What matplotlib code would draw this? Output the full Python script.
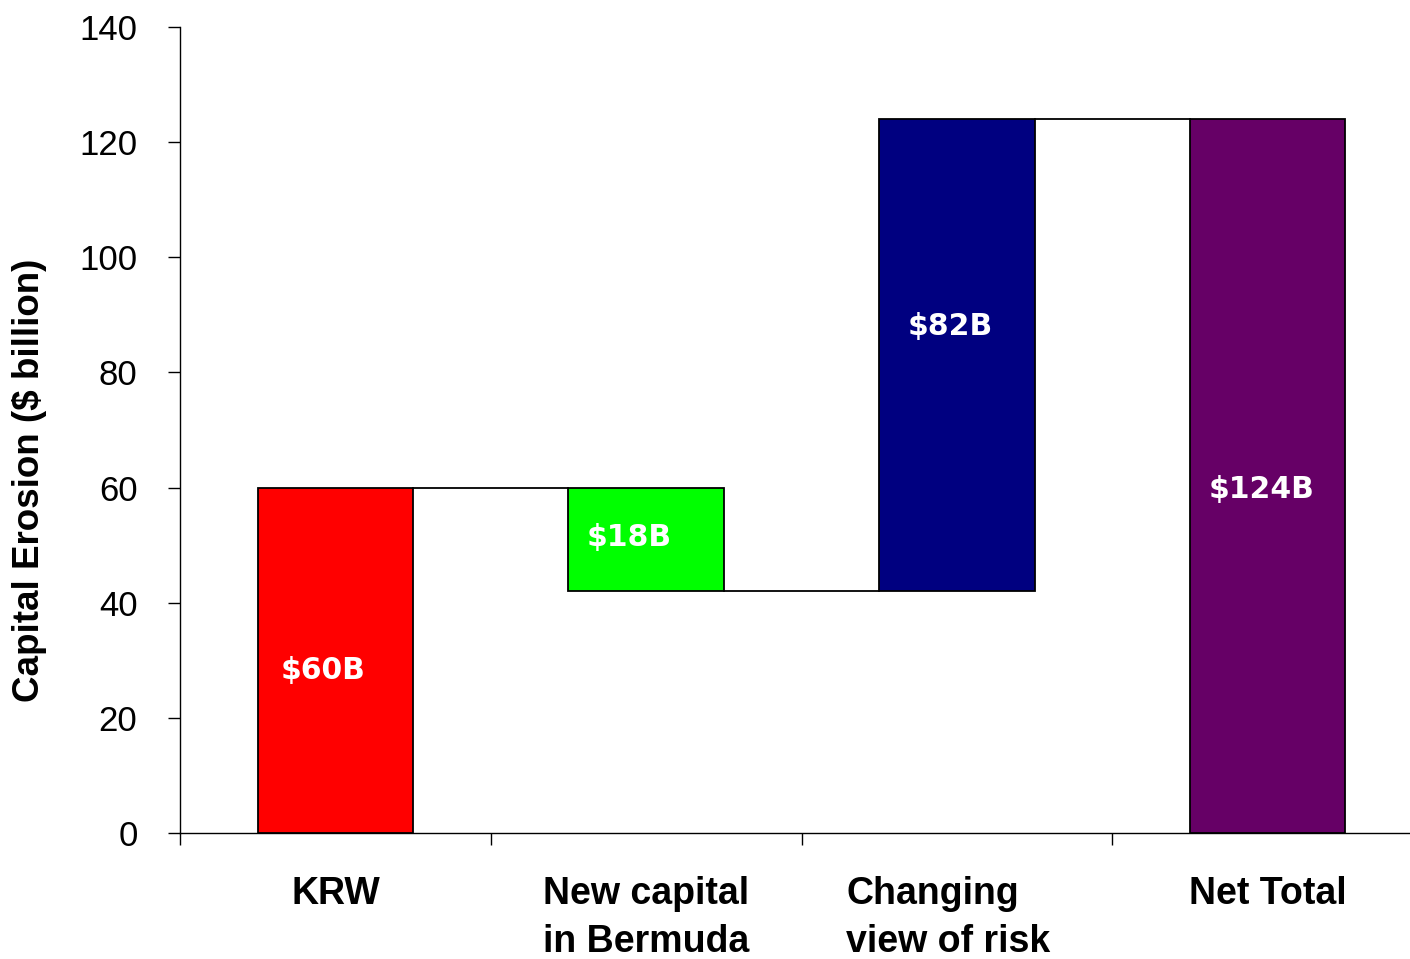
import matplotlib
matplotlib.use("Agg")
import matplotlib.pyplot as plt
import numpy as np

categories = ["KRW", "New capital\nin Bermuda", "Changing\nview of risk", "Net Total"]
bar_bottoms = [0, 42, 42, 0]
bar_tops = [60, 60, 124, 124]
bar_colors = ["#FF0000", "#00FF00", "#000080", "#660066"]
value_labels = ["$60B", "$18B", "$82B", "$124B"]
label_y = [28.3, 51.4, 87.9, 59.6]
yticks = [0, 20, 40, 60, 80, 100, 120, 140]

# layout tweaks (category-unit offsets of text)
label_dx = [-0.04, -0.055, -0.02, -0.02]
cat_dx = [0.003, 0.0, -0.028, 0.0]
cat_align = ["center", "center", "left", "center"]

plt.rcParams['font.family'] = ['Liberation Sans', 'DejaVu Sans']

fig = plt.figure(figsize=(14.10, 9.59), dpi=100)
ax = fig.add_axes([180/1410, 126/959, 1243/1410, 806/959])

x = np.arange(len(categories))
width = 0.5
heights = [t - b for t, b in zip(bar_tops, bar_bottoms)]
ax.bar(x, heights, width=width, bottom=bar_bottoms, color=bar_colors,
       edgecolor="black", linewidth=1.3, zorder=3)

for i in range(len(categories) - 1):
    lvl = bar_tops[i] if i != 1 else bar_bottoms[i]
    ax.plot([x[i] + width/2, x[i+1] - width/2], [lvl, lvl], color="black", lw=1.3, zorder=2)

for i, (lab, yy, dx) in enumerate(zip(value_labels, label_y, label_dx)):
    ax.text(x[i] + dx, yy, lab, color="white", ha="center", va="center",
            fontsize=21.5, fontweight="bold", family="DejaVu Sans", zorder=4)

ax.set_xlim(-0.5, len(categories) - 0.5)
ax.set_ylim(0, 140)
ax.set_yticks(yticks)
ax.set_yticklabels([str(v) for v in yticks], fontsize=25)
ax.tick_params(axis="y", length=8.6, width=1, pad=22, direction="out")

ax.set_xticks(np.arange(len(categories) + 1) - 0.5)
ax.set_xticklabels([])
ax.tick_params(axis="x", which="major", length=8.6, width=1, direction="out")

trans = ax.get_xaxis_transform()
for i, cat in enumerate(categories):
    ax.text(x[i] + cat_dx[i], -0.053, cat, transform=trans, ha="center", va="top",
            multialignment=cat_align[i], fontsize=27, fontweight="bold",
            linespacing=1.45)

ax.spines["top"].set_visible(False)
ax.spines["right"].set_visible(False)
ax.spines["left"].set_linewidth(1)
ax.spines["bottom"].set_linewidth(1)

fig.text(30/1410, 1 - 480/959, "Capital Erosion ($ billion)", rotation=90,
         ha="center", va="center", fontsize=26.5, fontweight="bold")

fig.savefig("out.png", dpi=100)
